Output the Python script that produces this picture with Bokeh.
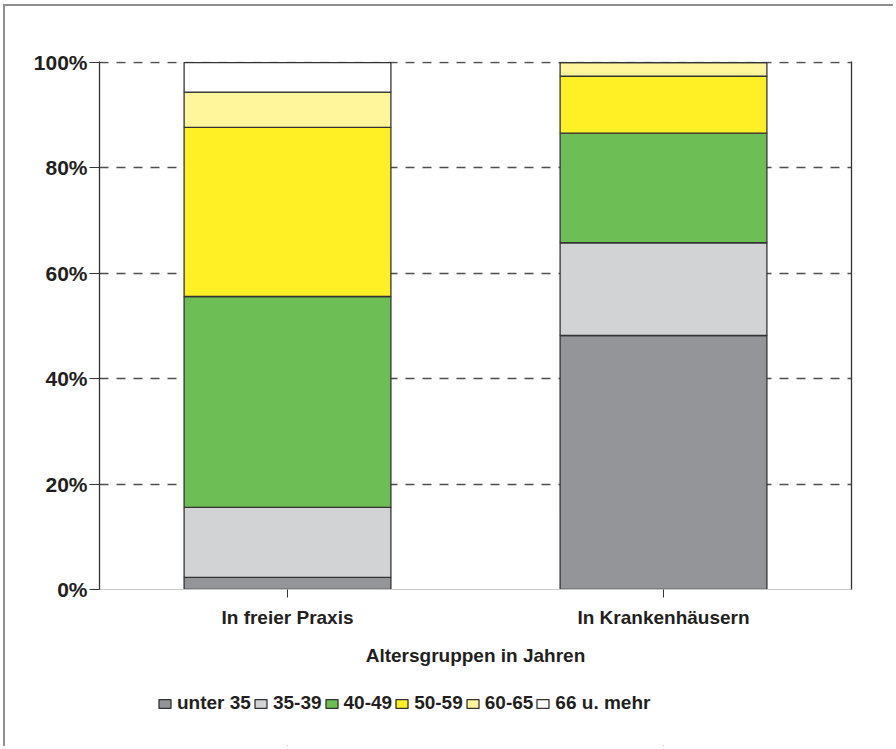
from bokeh.plotting import figure
from bokeh.layouts import column
from bokeh.models import (ColumnDataSource, FactorRange, Range1d, LinearAxis,
                          PrintfTickFormatter, FixedTicker, Legend)
from bokeh.embed import file_html
from bokeh.resources import INLINE

# ---- data (percent of each group) ----
categories = ["In freier Praxis", "In Krankenhäusern"]
unter_35 = [2.3, 48.2]
age_35_39 = [13.3, 17.6]
age_40_49 = [40.0, 20.8]
age_50_59 = [32.1, 10.8]
age_60_65 = [6.7, 2.6]
age_66_plus = [5.6, 0.0]
series_labels = ["unter 35", "35-39", "40-49", "50-59", "60-65", "66 u. mehr"]
y_ticks = [0, 20, 40, 60, 80, 100]

colors = ["#939598", "#d1d3d4", "#6dbe55", "#fff026", "#fff69b", "#ffffff"]
keys = ["u35", "a35", "a40", "a50", "a60", "a66"]

source = ColumnDataSource(data=dict(
    cat=categories, u35=unter_35, a35=age_35_39, a40=age_40_49,
    a50=age_50_59, a60=age_60_65, a66=age_66_plus))

FONT = "Liberation Sans"
TXT = "#231f20"
W = 888

p = figure(x_range=FactorRange(*categories, range_padding=0),
           y_range=Range1d(0, 100.2),
           width=W, height=680, output_backend="svg", toolbar_location=None,
           min_border_left=94, min_border_right=42, min_border_top=55,
           min_border_bottom=97)
p.outline_line_color = None

p.vbar_stack(keys, x="cat", width=0.55, source=source,
             fill_color=colors, line_color="#333333", line_width=1.3)

# grid
p.xgrid.grid_line_color = None
p.ygrid.ticker = FixedTicker(ticks=y_ticks[1:])
p.ygrid.grid_line_color = "#4d4d4d"
p.ygrid.grid_line_dash = "9 8"
p.ygrid.grid_line_width = 1.3

# y axis
p.yaxis.ticker = FixedTicker(ticks=y_ticks)
p.yaxis.formatter = PrintfTickFormatter(format="%d%%")
p.yaxis.axis_line_color = "#333333"
p.yaxis.axis_line_width = 1.3
p.yaxis.major_tick_line_color = "#333333"
p.yaxis.major_tick_out = 10
p.yaxis.major_tick_in = 0
p.yaxis.minor_tick_line_color = None
p.yaxis.major_label_text_font = FONT
p.yaxis.major_label_text_font_style = "bold"
p.yaxis.major_label_text_font_size = "21px"
p.yaxis.major_label_text_color = TXT
p.yaxis.major_label_standoff = 2

# right frame line
right = LinearAxis(ticker=FixedTicker(ticks=[]), major_label_text_font_size="0px",
                   axis_line_color="#333333", axis_line_width=1.3,
                   major_tick_line_color=None, minor_tick_line_color=None)
p.add_layout(right, "right")

# x axis
p.xaxis.axis_line_color = "#c8c8c8"
p.xaxis.major_tick_line_color = "#333333"
p.xaxis.major_tick_out = 8
p.xaxis.major_tick_in = 0
p.xaxis.major_label_text_font = FONT
p.xaxis.major_label_text_font_style = "bold"
p.xaxis.major_label_text_font_size = "19px"
p.xaxis.major_label_text_color = TXT
p.xaxis.major_label_standoff = 9
p.xaxis.axis_label = "Altersgruppen in Jahren"
p.xaxis.axis_label_text_font = FONT
p.xaxis.axis_label_text_font_style = "bold"
p.xaxis.axis_label_text_font_size = "19px"
p.xaxis.axis_label_text_color = TXT
p.xaxis.axis_label_standoff = 14

# ---- legend strip (same series, bars kept out of view) ----
lg = figure(x_range=FactorRange(*categories, range_padding=0),
            y_range=Range1d(300, 400), width=W, height=60,
            output_backend="svg", toolbar_location=None,
            x_axis_location=None, y_axis_location=None,
            min_border_left=0, min_border_right=0, min_border_top=0,
            min_border_bottom=0)
lg.outline_line_color = None
lg.grid.grid_line_color = None
lg_renderers = lg.vbar_stack(keys, x="cat", width=0.0001, source=source,
                             fill_color=colors, line_color="#333333", line_width=1.3)
legend = Legend(items=[(lbl, [r]) for lbl, r in zip(series_labels, lg_renderers)],
                orientation="horizontal", location=(58, 32),
                glyph_width=15, glyph_height=11, label_standoff=5, spacing=2,
                padding=0, margin=0, label_height=20,
                border_line_color=None, background_fill_alpha=0,
                label_text_font=FONT, label_text_font_style="bold",
                label_text_font_size="19px", label_text_color=TXT)
lg.add_layout(legend, "center")

layout = column(p, lg, spacing=0)
layout.styles = {"margin-left": "3px", "margin-top": "4px",
                 "border-left": "2px solid #8e8e8e", "border-top": "2px solid #8e8e8e"}

open("out.html", "w").write(file_html(layout, INLINE))
